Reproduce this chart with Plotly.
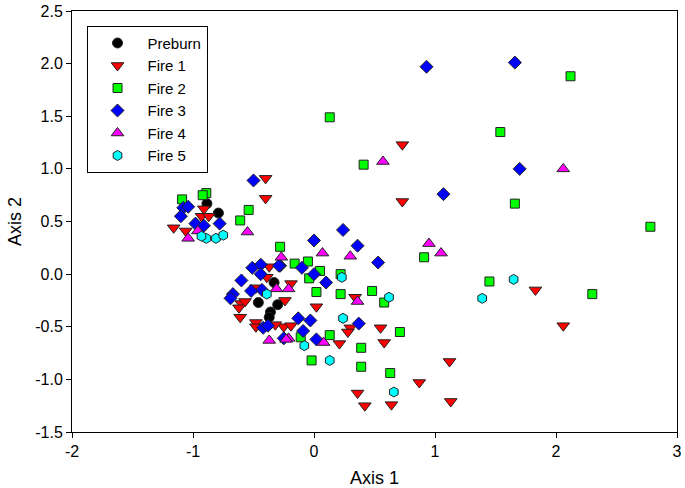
import plotly.graph_objects as go

# ---- data ----
preburn_x = [-0.885, -0.79, -0.33, -0.46, -0.30, -0.36, -0.37]
preburn_y = [0.67, 0.58, -0.08, -0.27, -0.29, -0.36, -0.41]

fire1_x = [0.73, 0.73, -0.40, -0.40, 1.83, 2.06, 0.30, 0.28, 0.55, 0.21, 0.58, 1.12, 0.87, 0.36,
           0.42, 0.64, 1.13, -0.19, -0.24, 0.02, 0.34, -0.25, -0.19, -0.37, -0.39, -0.48, -0.60,
           -0.62, -0.61, -0.48, -0.48, -0.32, -1.16, -1.06, -0.91, -0.93, -0.87, -0.57]
fire1_y = [1.23, 0.69, 0.91, 0.72, -0.15, -0.49, -0.51, -0.55, -0.51, -0.66, -0.65, -0.83, -1.03, -1.13,
           -1.25, -1.24, -1.21, -0.09, -0.25, -0.31, -0.22, -0.50, -0.49, 0.07, -0.03, -0.13, -0.28,
           -0.32, -0.41, -0.46, -0.50, -0.48, 0.44, 0.41, 0.62, 0.55, 0.55, -0.26]

fire2_x = [2.12, 1.54, 0.13, 0.41, 2.78, 0.91, 1.45, 2.30, 0.71, 1.66, 0.39, 0.39, 0.63, 0.13,
           -0.28, -0.16, -0.05, 0.05, -0.04, 0.22, 0.02, 0.22, 0.48, 0.58, -0.11, -0.02,
           -1.09, -0.89, -0.92, -0.54, -0.61]
fire2_y = [1.88, 1.35, 1.49, 1.04, 0.45, 0.16, -0.07, -0.19, -0.55, 0.67, -0.70, -0.88, -0.94, -0.58,
           0.26, 0.10, 0.12, 0.03, -0.04, 0.00, -0.17, -0.19, -0.16, -0.27, -0.60, -0.82,
           0.71, 0.77, 0.75, 0.61, 0.51]

fire3_x = [0.93, 1.66, 1.70, 1.07, 0.24, 0.00, 0.36, 0.53, -0.10, 0.00, 0.10, -0.28, -0.13, -0.03,
           -0.09, 0.37, 0.02, -0.25, -0.51, -0.44, -0.29, -0.60, -0.44, -0.43, -0.52, -0.67, -0.69,
           -0.42, -0.38, -0.50, -1.08, -1.04, -1.10, -0.98, -0.91, -0.78]
fire3_y = [1.97, 2.01, 1.00, 0.76, 0.42, 0.32, 0.27, 0.11, 0.06, 0.00, -0.08, 0.08, -0.42, -0.44,
           -0.54, -0.47, -0.62, -0.61, 0.06, 0.09, 0.08, -0.06, 0.00, -0.15, -0.16, -0.19, -0.23,
           -0.51, -0.49, 0.89, 0.63, 0.64, 0.55, 0.48, 0.46, 0.48]

fire4_x = [2.06, 0.57, 0.95, 1.05, -0.27, 0.07, 0.30, -0.21, 0.36, -0.21, 0.08, -0.31, -0.37, -0.23,
           -0.55, -1.04, -0.96]
fire4_y = [1.00, 1.07, 0.29, 0.20, 0.16, 0.20, 0.17, -0.14, -0.26, -0.61, -0.65, -0.14, -0.63, -0.62,
           0.40, 0.34, 0.41]

fire5_x = [1.65, 1.39, 0.24, 0.66, 0.13, 0.23, 0.62, -0.08, -0.39, -0.89, -0.81, -0.75, -0.93]
fire5_y = [-0.05, -0.23, -0.42, -1.12, -0.82, -0.03, -0.22, -0.68, -0.19, 0.34, 0.34, 0.37, 0.36]

x_ticks = [-2, -1, 0, 1, 2, 3]
y_ticks = [-1.5, -1.0, -0.5, 0.0, 0.5, 1.0, 1.5, 2.0, 2.5]

series = [
    ("Preburn", preburn_x, preburn_y, "circle", "#000000", 10),
    ("Fire 1", fire1_x, fire1_y, "triangle-down", "#FF0000", 11),
    ("Fire 2", fire2_x, fire2_y, "square", "#00FF00", 9),
    ("Fire 3", fire3_x, fire3_y, "diamond", "#0000FF", 10),
    ("Fire 4", fire4_x, fire4_y, "triangle-up", "#FF00FF", 11),
    ("Fire 5", fire5_x, fire5_y, "hexagon", "#00FFFF", 10),
]

FONT = "Arial, 'Liberation Sans', sans-serif"

fig = go.Figure()
for name, xs, ys, sym, col, sz in series:
    fig.add_trace(go.Scatter(
        x=xs, y=ys, mode="markers", name=name,
        marker=dict(symbol=sym, color=col, size=sz,
                    line=dict(color="#222222", width=1)),
    ))

fig.update_layout(
    width=685, height=488,
    margin=dict(l=72, r=3, t=7, b=55),
    paper_bgcolor="white", plot_bgcolor="white",
    font=dict(family=FONT, size=16, color="black"),
    showlegend=True,
    legend=dict(
        x=0.024, y=0.965, xanchor="left", yanchor="top",
        bgcolor="white", bordercolor="black", borderwidth=1,
        font=dict(family=FONT, size=15, color="black"),
        itemwidth=50, tracegroupgap=0, entrywidth=66,
    ),
)
fig.update_xaxes(
    range=[-2, 3], tickvals=x_ticks, ticktext=[str(v) for v in x_ticks],
    showgrid=False, zeroline=False, showline=True, linecolor="black", linewidth=1,
    mirror=True, ticks="outside", ticklen=5, tickcolor="black",
    ticklabeloverflow="allow",
    title=dict(text="Axis 1", font=dict(family=FONT, size=18), standoff=12),
    tickfont=dict(family=FONT, size=16),
)
fig.update_yaxes(
    range=[-1.5, 2.5], tickvals=y_ticks, ticktext=[f"{v:.1f}" for v in y_ticks],
    showgrid=False, zeroline=False, showline=True, linecolor="black", linewidth=1,
    mirror=True, ticks="outside", ticklen=5, tickcolor="black",
    ticklabeloverflow="allow",
    title=dict(text="Axis 2", font=dict(family=FONT, size=18), standoff=8),
    tickfont=dict(family=FONT, size=16),
)

fig.write_html(
    "out.html",
    config={"displayModeBar": False},
    post_script="document.body.style.margin='0';document.body.style.overflow='hidden';",
)
